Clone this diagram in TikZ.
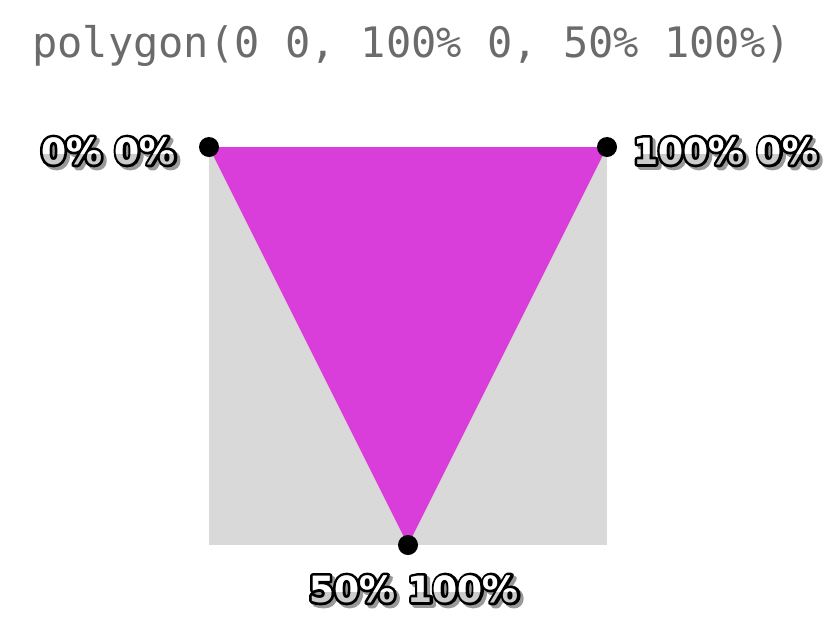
\documentclass[tikz,border=0pt]{standalone}
\usepackage{fontspec}
\setmonofont{DejaVu Sans Mono}
\newfontfamily\pixfont{DejaVu Sans}
\usetikzlibrary{positioning}

\definecolor{boxgray}{RGB}{217,217,217}
\definecolor{shapemagenta}{RGB}{218,62,218}
\definecolor{titlegray}{RGB}{107,107,107}
\definecolor{labelgray}{RGB}{204,204,204}

% text drawn with a thick stroke (pdf render mode 2)
\newcommand{\thicktext}[1]{\special{pdf:literal direct 2 Tr 5.5 w 1 j}#1\special{pdf:literal direct 0 Tr 1 w}}
\newcommand{\outlined}[1]{\rlap{\color{black}\thicktext{#1}}#1}

% corner label: shadow, gray lower half, white upper half
\newcommand{\pixlabel}[3]{%
  \node[pixtext, text=black!40, #2, xshift=3pt, yshift=-3pt] (#1-shadow) {\thicktext{#3}};
  \node[pixtext, text=labelgray, #2] (#1) {\outlined{#3}};
  \begin{scope}
    \clip ([yshift=6pt]#1.north west) rectangle ([yshift=-2pt]#1.east);
    \node[pixtext, text=white, #2] (#1-top) {#3};
  \end{scope}}

\begin{document}
\begin{tikzpicture}[
    x=1pt, y=-1pt,
    pixtext/.style={inner sep=0pt, font=\pixfont\bfseries\fontsize{36}{36}\selectfont},
    vertex/.style={circle, fill=black, inner sep=0pt, minimum size=20pt},
    title/.style={inner sep=0pt, text=titlegray, font=\ttfamily\fontsize{42}{42}\selectfont}
]
\useasboundingbox (0,0) rectangle (827,630);

% Title
\node[title, anchor=base west] (title) at (32,57) {polygon(0 0, 100\% 0, 50\% 100\%)};

% Reference box and clipped shape
\coordinate (tl) at (209,147);
\coordinate (tr) at (607,147);
\coordinate (br) at (607,545);
\coordinate (bm) at (408,545);
\fill[boxgray] (tl) rectangle (br);
\fill[shapemagenta] (tl) -- (tr) -- (bm) -- cycle;

% Vertices
\node[vertex] (p1) at (tl) {};
\node[vertex] (p2) at (tr) {};
\node[vertex] (p3) at (bm) {};

% Labels
\pixlabel{lbl1}{anchor=east, at={(176,151)}}{0\% 0\%}
\pixlabel{lbl2}{anchor=west, at={(633,151)}}{100\% 0\%}
\pixlabel{lbl3}{anchor=center, at={(414,589)}}{50\% 100\%}

\end{tikzpicture}
\end{document}
